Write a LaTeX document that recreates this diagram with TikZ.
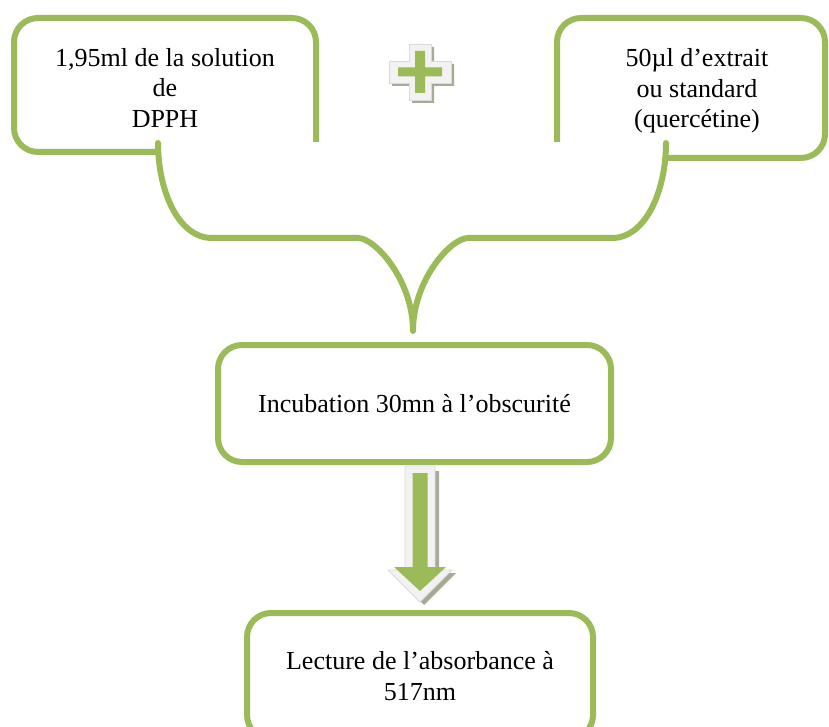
\documentclass[tikz,border=0pt]{standalone}
\usepackage{fontspec}
\setmainfont{Liberation Serif}
\definecolor{ogreen}{HTML}{9BBB59}
\definecolor{lightfill}{HTML}{F2F2F2}
\definecolor{lightedge}{HTML}{DADADA}
\definecolor{shadowc}{HTML}{A6AA96}
\tikzset{
  greenline/.style={draw=ogreen, line width=6pt},
  box/.style={greenline, rounded corners=24pt, align=center, inner sep=0pt},
  txt/.style={align=center, inner sep=0pt, font=\fontsize{26}{30.5}\selectfont},
}
\begin{document}
\begin{tikzpicture}[x=1pt,y=-1pt]
\useasboundingbox (0,0) rectangle (829,727);
\clip (0,0) rectangle (829,727);
% top boxes (open at the bottom inner corner)
\draw[greenline, rounded corners=24pt] (316,142) -- (316,18) -- (14,18) -- (14,152) -- (160,152);
\draw[greenline, rounded corners=24pt] (557,142) -- (557,18) -- (825,18) -- (825,158) -- (665,158);
\node[txt] (t1) at (165,88) {1,95ml de la solution\\de\\DPPH};
\node[txt] (t2) at (697,91) {50µl d’extrait\\ou standard\\(quercétine)};
% brace connector
\coordinate (bl) at (158,143);
\coordinate (br) at (666,143);
\coordinate (tip) at (413,331);
\draw[greenline, line join=round, line cap=round] (bl) .. controls (158,190) and (178,238) .. (212,238) -- (358,238)
  .. controls (375,238) and (413,280) .. (tip)
  .. controls (413,280) and (451,238) .. (468,238) -- (612,238)
  .. controls (646,238) and (666,190) .. (br);
% middle and bottom boxes
\node[box, txt, minimum width=393pt, minimum height=117pt] (inc) at (414.5,403.5) {Incubation 30mn à l’obscurité};
\node[box, txt, minimum width=346pt, minimum height=126pt] (lec) at (420,676) {Lecture de l’absorbance à\\517nm};
% plus sign
\begin{scope}[shift={(420,72)}]
  \fill[shadowc, shift={(3,3)}] (-31,-11) -- (-11,-11) -- (-11,-28) -- (11,-28) -- (11,-11) -- (31,-11) -- (31,11) -- (11,11) -- (11,28) -- (-11,28) -- (-11,11) -- (-31,11) -- cycle;
  \filldraw[fill=lightfill, draw=lightedge, line width=0.8pt] (-31,-11) -- (-11,-11) -- (-11,-28) -- (11,-28) -- (11,-11) -- (31,-11) -- (31,11) -- (11,11) -- (11,28) -- (-11,28) -- (-11,11) -- (-31,11) -- cycle;
  \fill[ogreen] (-22,-4.5) -- (-5,-4.5) -- (-5,-21) -- (5,-21) -- (5,-4.5) -- (22,-4.5) -- (22,4.5) -- (5,4.5) -- (5,21) -- (-5,21) -- (-5,4.5) -- (-22,4.5) -- cycle;
\end{scope}
% block arrow
\begin{scope}[shift={(420,0)}]
  \fill[shadowc, shift={(4,3)}] (-15,468) -- (15,468) -- (15,570) -- (32,570) -- (0,602) -- (-32,570) -- (-15,570) -- cycle;
  \filldraw[fill=lightfill, draw=lightedge, line width=0.8pt] (-15,466) -- (15,466) -- (15,570) -- (32,570) -- (0,602) -- (-32,570) -- (-15,570) -- cycle;
  \fill[ogreen] (-7.5,473) -- (7.5,473) -- (7.5,567) -- (26,567) -- (0,591) -- (-26,567) -- (-7.5,567) -- cycle;
\end{scope}
\end{tikzpicture}
\end{document}
